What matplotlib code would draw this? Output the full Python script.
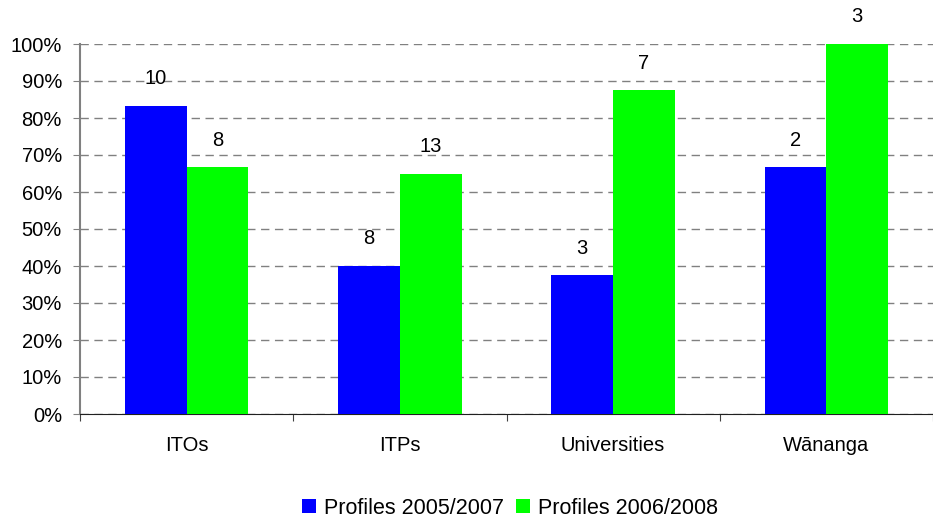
import matplotlib
matplotlib.use("Agg")
import matplotlib.pyplot as plt
import numpy as np
from matplotlib.ticker import PercentFormatter

categories = ["ITOs", "ITPs", "Universities", "Wānanga"]
series_names = ["Profiles 2005/2007", "Profiles 2006/2008"]
pct_0507 = [83.3, 40.0, 37.5, 66.7]
pct_0608 = [66.7, 65.0, 87.5, 100.0]
count_0507 = [10, 8, 3, 2]
count_0608 = [8, 13, 7, 3]
colors = ["#0000ff", "#00ff00"]

plt.rcParams['font.family'] = ['Liberation Sans', 'DejaVu Sans']

fig = plt.figure(figsize=(9.33, 5.17), dpi=100, facecolor='white')
W, H = 933, 517
ax = fig.add_axes([80 / W, (H - 414) / H, (W - 80) / W, 370 / H])

x = np.arange(len(categories))
bw = 0.29
b1 = ax.bar(x - bw / 2, pct_0507, bw, color=colors[0], label=series_names[0], zorder=3)
b2 = ax.bar(x + bw / 2, pct_0608, bw, color=colors[1], label=series_names[1], zorder=3)

for bars, counts in ((b1, count_0507), (b2, count_0608)):
    for rect, n in zip(bars, counts):
        ax.annotate(str(n), (rect.get_x() + rect.get_width() / 2, rect.get_height()),
                    xytext=(0, 19.5), textcoords='offset points',
                    ha='center', va='center', fontsize=14.5, color='black')

ax.set_ylim(0, 100)
ax.set_xlim(-0.5, -0.5 + (W - 80) / 216)
ax.set_yticks(np.arange(0, 101, 10))
ax.yaxis.set_major_formatter(PercentFormatter(decimals=0))
ax.yaxis.grid(True, color='#808080', linestyle=(0, (6, 4)), linewidth=1, zorder=0)

ax.set_xticks(np.arange(-0.5, len(categories), 1))
ax.set_xticklabels([])
ax.set_xticks(x, minor=True)
ax.set_xticklabels(categories, minor=True)
ax.tick_params(axis='x', which='major', length=5, color='#404040', direction='out')
ax.tick_params(axis='x', which='minor', length=0, pad=16, labelsize=14.5)
ax.tick_params(axis='y', length=5, color='#808080', pad=8, labelsize=14.5)

for s in ('top', 'right'):
    ax.spines[s].set_visible(False)
ax.spines['left'].set_color('#808080')
ax.spines['left'].set_linewidth(1.5)
ax.spines['bottom'].set_color('#202020')

fig.legend(handles=[b1, b2], loc='center', bbox_to_anchor=(510 / W, 1 - 508 / H),
           ncol=2, frameon=False, fontsize=15.5, handlelength=0.65, handleheight=0.65,
           handletextpad=0.35, columnspacing=0.6, borderpad=0)

fig.savefig("out.png", dpi=100, facecolor='white')
